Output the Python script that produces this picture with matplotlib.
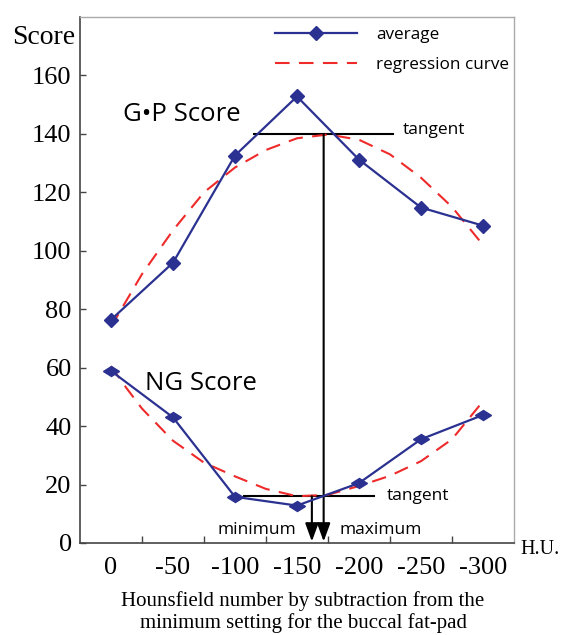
import matplotlib.pyplot as plt
from matplotlib.markers import MarkerStyle
from matplotlib.transforms import Affine2D
import numpy as np

# categories along the x axis (H.U.)
hu_labels = ["0", "-50", "-100", "-150", "-200", "-250", "-300"]

# averages
gp_avg = [76.4, 95.9, 132.6, 152.8, 131.2, 114.8, 108.6]
ng_avg = [58.9, 43.0, 15.8, 12.8, 20.5, 35.5, 43.8]

# regression curves, read at half-category steps
reg_pos = [0, 0.25, 0.5, 1, 1.5, 2, 2.5, 3, 3.5, 4, 4.5, 5, 5.5, 6]
gp_reg = [74, 83, 92, 107, 120, 128.5, 134.5, 138.5, 139.8, 138, 133, 125, 115, 102]
ng_reg = [60.5, 53, 46, 35, 27.5, 22.8, 18.5, 16, 16.5, 19.5, 23, 28, 35.5, 48.5]

# tangent levels and where they touch
gp_tangent = 140
ng_tangent = 16
gp_max_pos = 3.43
ng_min_pos = 3.24

blue = "#2b3190"
red = "#ee2a2a"
sans = ["Open Sans", "DejaVu Sans"]
serif = "Liberation Serif"

fig = plt.figure(figsize=(5.62, 6.35), dpi=100)
ax = fig.add_axes([0.1423, 0.1449, 0.7723, 0.8283])

x = np.arange(len(hu_labels))
ax.plot(x, gp_avg, color=blue, lw=1.6, marker="D", ms=7, label="average", zorder=4)
ng_marker = MarkerStyle("d", transform=Affine2D().rotate_deg(90))
ax.plot(x, ng_avg, color=blue, lw=1.6, marker=ng_marker, ms=8, zorder=4)

ax.plot(reg_pos, gp_reg, color=red, lw=1.5, dashes=(7, 4.5), label="regression curve", zorder=3)
ax.plot(reg_pos, ng_reg, color=red, lw=1.5, dashes=(7, 4.5), zorder=3)

# tangents
ax.plot([2.3, 4.55], [gp_tangent, gp_tangent], color="black", lw=1.5, zorder=2)
ax.plot([2.15, 4.25], [ng_tangent, ng_tangent], color="black", lw=1.5, zorder=2)
ax.text(4.7, gp_tangent + 1.5, "tangent", family=sans, fontsize=12.5, va="center")
ax.text(4.45, ng_tangent, "tangent", family=sans, fontsize=12.5, va="center")

# vertical arrows down to the axis
for pos, top in [(gp_max_pos, gp_tangent), (ng_min_pos, ng_tangent)]:
    ax.annotate("", xy=(pos, 0.5), xytext=(pos, top),
                arrowprops=dict(arrowstyle="-|>,head_length=1.1,head_width=0.4",
                                color="black", lw=1.5, shrinkA=0, shrinkB=0))
ax.text(ng_min_pos - 0.25, 4.3, "minimum", family=sans, fontsize=12.5, ha="right", va="center")
ax.text(gp_max_pos + 0.25, 4.3, "maximum", family=sans, fontsize=12.5, ha="left", va="center")

ax.text(0.2, 146.8, "G\u2022P Score", family=sans, fontsize=18.5, va="center")
ax.text(0.55, 54.5, "NG Score", family=sans, fontsize=18.5, va="center")

ax.set_xlim(-0.5, 6.5)
ax.set_ylim(0, 180)
ax.set_xticks(x)
ax.set_xticklabels(hu_labels, family=serif, fontsize=19)
ax.set_xticks(np.arange(0.5, 6.5, 1), minor=True)
ax.tick_params(axis="x", which="major", length=0, pad=10)
ax.tick_params(axis="x", which="minor", direction="in", length=5, width=1, color="#444")
ax.set_yticks(range(0, 161, 20))
ax.set_yticklabels([str(v) for v in range(0, 161, 20)], family=serif, fontsize=19)
ax.tick_params(axis="y", direction="in", length=4, width=1, color="#444", pad=6)

for side in ["left", "bottom"]:
    ax.spines[side].set_color("#444")
    ax.spines[side].set_linewidth(1.2)
for side in ["top", "right"]:
    ax.spines[side].set_color("#aaaaaa")
    ax.spines[side].set_linewidth(1.0)

fig.text(12 / 562, 1 - 37 / 635, "Score", family=serif, fontsize=20, va="center")
fig.text(520 / 562, 1 - 549 / 635, "H.U.", family=serif, fontsize=14.5, va="center")
fig.text(303 / 562, 1 - 612 / 635,
         "Hounsfield number by subtraction from the\nminimum setting for the buccal fat-pad",
         family=serif, fontsize=15, ha="center", va="center", linespacing=1.2)

leg = ax.legend(loc="upper left", bbox_to_anchor=(0.415, 1.01), frameon=False,
                prop={"family": sans, "size": 12.3}, handlelength=4.8,
                handletextpad=1.1, numpoints=1, labelspacing=0.8)

fig.savefig("out.png", dpi=100)
